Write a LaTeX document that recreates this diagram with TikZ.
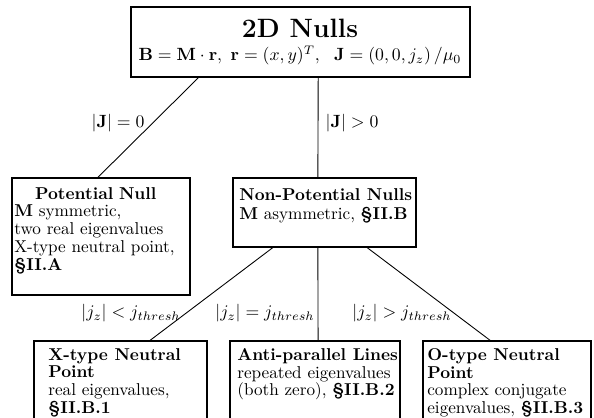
\documentclass[tikz,border=0pt]{standalone}
\usetikzlibrary{fit,calc}
\begin{document}
\begin{tikzpicture}[x=0.565pt,y=-0.565pt,
 box/.style={draw, line width=0.8pt, inner sep=0pt},
 conn/.style={line width=0.5pt},
 txt/.style={inner sep=0pt, align=left, font=\fontsize{9.7}{10}\selectfont, anchor=north west},
 lab/.style={inner sep=0pt, font=\fontsize{10}{12}\selectfont}]
\useasboundingbox (0,0) rectangle (594,417);
\clip (0,0) rectangle (594,417);
% boxes
\node[box, fit={(131,7) (470,77)}] (top) {};
\node[box, fit={(12,178) (190,295)}] (pot) {};
\node[box, fit={(233,178) (416,247)}] (npot) {};
\node[box, fit={(34,341) (207,440)}] (xt) {};
\node[box, fit={(230,341) (400,440)}] (anti) {};
\node[box, fit={(423,341) (591,440)}] (ot) {};
% texts
\node[inner sep=0pt, align=center, anchor=north] (toptxt) at (300,19)
 {{\fontsize{15}{16}\selectfont\bfseries 2D Nulls}\\[1pt]
  \fontsize{9.7}{11}\selectfont$\mathbf{B}=\mathbf{M}\cdot\mathbf{r},\ \mathbf{r}=(x,y)^T,\ \ \mathbf{J}=(0,0,j_z)\,/\mu_0$};
\node[txt, text width=92pt] (pottxt) at (14,187)
 {\makebox[\linewidth][c]{\bfseries Potential Null}\\
  \textbf{M} symmetric,\\ two real eigenvalues\\ X-type neutral point,\\ \textbf{\S II.A}};
\node[txt] (npottxt) at (239,188)
 {\textbf{Non-Potential Nulls}\\[1pt] \textbf{M} asymmetric, \textbf{\S II.B}};
\node[txt] (xtxt) at (48,348)
 {\textbf{X-type Neutral}\\ \textbf{Point}\\ real eigenvalues,\\ \textbf{\S II.B.1}};
\node[txt] (antitxt) at (237,348)
 {\textbf{Anti-parallel Lines}\\ repeated eigenvalues\\ (both zero), \textbf{\S II.B.2}};
\node[txt] (otxt) at (427,348)
 {\textbf{O-type Neutral}\\ \textbf{Point}\\ complex conjugate\\ eigenvalues, \textbf{\S II.B.3}};
% connectors
\draw[conn] ($(top.south west)!0.2!(top.south east)$) -- ($(pot.north west)!0.483!(pot.north east)$);
\draw[conn] ($(top.south west)!0.552!(top.south east)$) -- ($(npot.north west)!0.464!(npot.north east)$);
\draw[conn] ($(npot.south west)!0.219!(npot.south east)$) -- ($(xt.north west)!0.67!(xt.north east)$);
\draw[conn] ($(npot.south west)!0.464!(npot.south east)$) -- ($(anti.north west)!0.518!(anti.north east)$);
\draw[conn] ($(npot.south west)!0.732!(npot.south east)$) -- ($(ot.north west)!0.4!(ot.north east)$);
% labels
\node[lab] (l1) at (118,123) {$|\mathbf{J}|=0$};
\node[lab] (l2) at (352,123) {$|\mathbf{J}|>0$};
\node[lab] (l3) at (131,313) {$|j_z|<j_{thresh}$};
\node[lab] (l4) at (265,313) {$|j_z|=j_{thresh}$};
\node[lab] (l5) at (402,313) {$|j_z|>j_{thresh}$};
\end{tikzpicture}
\end{document}
